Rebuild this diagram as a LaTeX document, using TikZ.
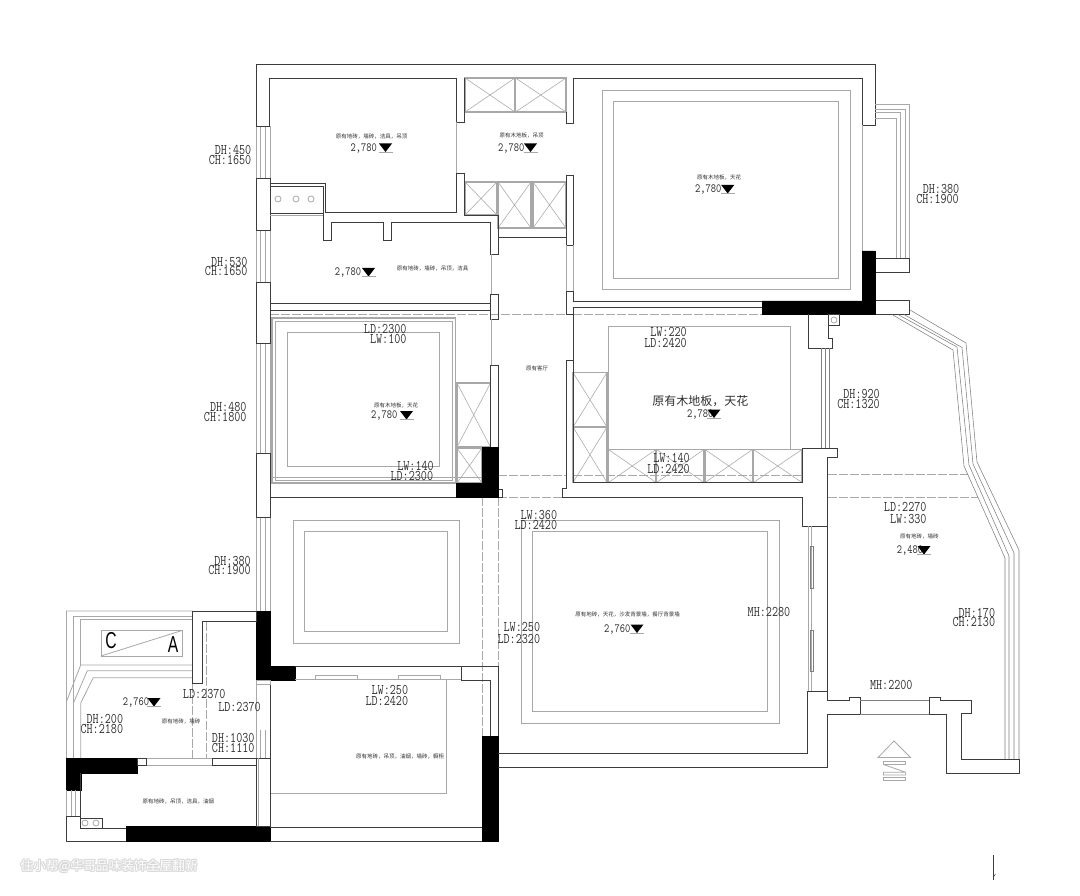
\documentclass[tikz,border=0pt]{standalone}
\usepackage{fontspec}
\newfontfamily\cjk{Noto Sans CJK SC}
\newfontfamily\lsb{Liberation Sans}
\definecolor{wallc}{HTML}{3C3C3C}
\definecolor{grayc}{HTML}{A8A8A8}
\definecolor{textc}{HTML}{303030}
\tikzset{
  wl/.style={draw=wallc,line width=0.9pt,line join=miter},
  gl/.style={draw=grayc,line width=0.8pt},
  gk/.style={draw=grayc,line width=1.3pt},
  xl/.style={draw=grayc,line width=0.55pt},
  dl/.style={draw=grayc,line width=0.8pt,dash pattern=on 9pt off 2pt on 9pt off 2pt},
  blk/.style={fill=black,draw=black,line width=0.3pt},
  dimt/.style={anchor=east,inner sep=0pt,text=textc,font=\fontsize{11.8}{12}\selectfont\ttfamily},
  dimc/.style={anchor=center,inner sep=0pt,text=textc,font=\fontsize{11.8}{12}\selectfont\ttfamily},
  lvlt/.style={anchor=west,inner sep=0pt,text=textc,font=\fontsize{10}{10}\selectfont\ttfamily},
  tiny/.style={anchor=center,inner sep=0pt,text=textc,font=\fontsize{5.5}{6}\selectfont\cjk},
  big/.style={anchor=center,inner sep=0pt,text=textc,font=\fontsize{12}{13}\selectfont\cjk}
}
\newcommand{\dimr}[3]{\node[dimt] at (#1,#2) {\scalebox{1}[1.25]{#3}};}
\newcommand{\dimm}[3]{\node[dimc] at (#1,#2) {\scalebox{1}[1.25]{#3}};}
% level mark: text left x, triangle centre x, triangle top y, text
\newcommand{\lvl}[4]{%
  \node[lvlt] at (#1,#3+4.5) {\scalebox{1}[1.25]{#4}};
  \fill[black] (#2-6.5,#3) -- (#2+6.5,#3) -- (#2,#3+8.5) -- cycle;
  \draw[gl,line width=0.6pt] (#2-7,#3+8.5) -- (#2+7,#3+8.5);}
\newcommand{\closet}[4]{%
  \draw[gk] (#1,#2) rectangle (#3,#4);
  \draw[xl] (#1,#2) -- (#3,#4) (#1,#4) -- (#3,#2);}
\newcommand{\winv}[4]{% vertical window: x1 x2 y1 y2
  \draw[gl] (#1,#3) -- (#1,#4) (#1+4.5,#3) -- (#1+4.5,#4) (#2-4.5,#3) -- (#2-4.5,#4) (#2,#3) -- (#2,#4);}
\begin{document}
\begin{tikzpicture}[x=1pt,y=-1pt]
\useasboundingbox (0,0) rectangle (1080,896);
\fill[white] (0,0) rectangle (1080,896);

% ---- ceilings
\draw[gl] (602,90) rectangle (850,289);
\draw[gl] (613.5,101) rectangle (838.5,278);
\draw[gl] (287.5,332.5) rectangle (439.5,466.5);
\draw[gl] (293,520.5) rectangle (459,643);
\draw[gl] (304.5,531.5) rectangle (447.5,631.5);
\draw[gl] (521,520.5) rectangle (779.5,723);
\draw[gl] (532.5,531.5) rectangle (767.5,711);
\draw[gl] (608,449) -- (608,326.5) -- (790.5,326.5) -- (790.5,449);
\draw[gl] (446,680) -- (446,793) -- (270,793);
\draw[gk] (272,318) rectangle (455.5,483);
\draw[gl] (275,321) rectangle (452.5,480);

% ---- dashed lines
\draw[dl] (270,314.5) -- (573,314.5);
\draw[dl] (573,314.5) -- (762,314.5);
\draw[dl] (498,475) -- (566,475);
\draw[dl] (573,475) -- (802,475);
\draw[dl] (827.5,474) -- (968,474);
\draw[dl] (498,497) -- (562,497);
\draw[dl] (827.5,497) -- (978,497);
\draw[draw=grayc,line width=0.6pt] (270,477) -- (482,477);
\draw[dl] (482,497) -- (482,736);
\draw[dl] (498,497) -- (498,666);
\draw[dl] (192.7,683.5) -- (192.7,758);
\draw[dl] (206.5,621.5) -- (206.5,758);

% ---- left windows
\winv{256}{270}{126}{178}
\winv{256}{270}{230}{282}
\winv{256}{270}{343}{453}
\winv{256}{270}{517}{611}
\winv{256}{270}{730}{758}
\draw[gl] (256,684) -- (256,730) (270,684) -- (270,730);

% ---- closets
\closet{465}{78}{515}{112}
\closet{515.5}{78}{566}{112}
\closet{465}{182}{497}{215}
\closet{498}{182}{531}{228}
\closet{533}{182}{566}{228}
\closet{457}{383}{490.5}{447}
\closet{457}{448}{482}{483}
\closet{573}{372.5}{607}{427}
\closet{573}{427}{607}{482.5}
\closet{608.5}{449.5}{656}{482.5}
\closet{656.5}{449.5}{704}{482.5}
\closet{705}{449.5}{752.5}{482.5}
\closet{753.5}{449.5}{802}{482.5}

% ---- main walls, upper part
\draw[wl] (456.5,122) -- (456.5,78) -- (269.5,78) -- (269.5,126) -- (256,126) -- (256,64) -- (875,64) -- (875,125) -- (862,125) -- (862,78) -- (573,78) -- (573,123.5) -- (566,123.5) -- (566,112);
\draw[wl] (464,78) -- (464,122) -- (456.5,122);
\draw[wl] (256,178) rectangle (270,230);
\draw[wl] (256,282) rectangle (270,343);
\draw[wl] (256,453) rectangle (270,517);
\draw[wl] (464,173) -- (456.5,173) -- (456.5,212) -- (325.5,212);
\draw[wl] (464,173) -- (464,215) -- (498,215) -- (498,254) -- (490.5,254) -- (490.5,222) -- (391,222) -- (391,240) -- (383,240) -- (383,222) -- (331,222) -- (331,240) -- (323,240) -- (323,213);
\draw[wl] (566,175.5) rectangle (573,245);
\draw[draw=wallc,line width=0.8pt] (498,237) -- (566,237);
\draw[draw=wallc,line width=0.7pt] (269.5,183) -- (325.5,183) -- (325.5,213) (269.5,186) -- (323,186) -- (323,213) (269.5,213) -- (323,213);
\draw[gl] (269.5,215.5) -- (323,215.5);
\draw[gl] (278,199) circle (3) (296,199) circle (3) (311,199) circle (3);
\draw[wl] (270,303.5) -- (490.5,303.5);
\draw[wl] (270,310.5) -- (490.5,310.5);
\draw[wl] (490.5,294) rectangle (498,319);
\draw[wl] (490.5,365) rectangle (498,447);
\draw[gl] (456.5,122) -- (456.5,173);
\draw[gl] (491,254) -- (491,294) (491,319) -- (491,365);
\draw[gl] (566,245) -- (566,291) (573,245) -- (573,291);
\draw[wl] (270,497) -- (456,497);
\draw[wl] (498,489) rectangle (502,497);
\draw[gl] (862,125) -- (862,251);

% master lower wall
\draw[wl] (573,301) -- (762,301);
\draw[wl] (573,301) -- (573,291) -- (566,291) -- (566,314.5) -- (573,314.5);
\draw[wl] (573,307.5) -- (762,307.5);
\draw[wl] (573,307.5) -- (573,360.5);
\draw[wl] (573,360.5) -- (566,360.5) -- (566,488) -- (562.5,488) -- (562.5,497) -- (802.5,497) -- (802.5,526) -- (827.5,526) -- (827.5,457) -- (837,457) -- (837,448) -- (802.5,448) -- (802.5,482.5) -- (573,482.5) -- (573,360.5);

% balcony NE
\draw[gl] (875,104) -- (909.5,104) -- (909.5,258);
\draw[gl] (875,109) -- (905,109) -- (905,258);
\draw[gl] (875,112) -- (900.5,112) -- (900.5,258);
\draw[gl] (875,118) -- (896,118) -- (896,258);
\draw[wl] (875,258) rectangle (909.5,272);
\draw[wl] (875,300.5) rectangle (909.5,314.5);

% balcony E
\draw[xl,draw=gray] (910,310) -- (966,343) -- (977,462) -- (1019,550) -- (1019,759);
\draw[xl,draw=gray] (904,314.5) -- (962,347.5) -- (973,464) -- (1014,553) -- (1014,759);
\draw[xl,draw=gray] (898,314.5) -- (957,347) -- (969,465) -- (1009,556) -- (1009,759);
\draw[xl,draw=gray] (892,314.5) -- (953,350) -- (964,466) -- (1005,558) -- (1005,759);

% black pillars
\fill[blk] (862,251) -- (875,251) -- (875,314.5) -- (762,314.5) -- (762,301) -- (862,301) -- cycle;
\fill[blk] (482,447) -- (498,447) -- (498,497) -- (456,497) -- (456,483) -- (482,483) -- cycle;
\fill[blk] (256,611) -- (270,611) -- (270,666) -- (295,666) -- (295,680) -- (256,680) -- cycle;
\fill[blk] (482,736) rectangle (498,841);
\fill[blk] (126,826) rectangle (270,841);
\fill[blk] (66.5,758) -- (137,758) -- (137,773) -- (80.7,773) -- (80.7,790) -- (66.5,790) -- cycle;

% window beside centre room
\draw[wl] (808,314.5) -- (808,348) -- (832,348) -- (832,338) -- (828,338) -- (828,314.5);
\draw[wl,line width=0.7pt] (828.5,314.5) rectangle (839.5,325);
\draw[gl] (834,320) circle (3);
\draw[xl,draw=gray] (821.5,348) -- (821.5,448) (825,348) -- (825,448) (829,348) -- (829,448);

% living right side
\draw[wl] (827.5,526) -- (827.5,700) -- (849,700) -- (849,697.5) -- (860,697.5) -- (860,714) -- (827.5,714) -- (827.5,767) -- (498,767);
\draw[wl] (807,691) -- (827.5,691);
\draw[wl] (807,691) -- (807,753) -- (498,753);
\draw[gl] (808,526) -- (808,691);
\draw[xl,draw=grayc] (811,526) -- (811,691);
\draw[xl,draw=gray] (810,546.5) rectangle (813,588.5) (810,630) rectangle (813,671.5);

% entry
\draw[wl,line width=0.5pt,draw=gray] (860,700) -- (929,700) (860,714) -- (929,714);
\draw[wl] (929,714) -- (929,697.5) -- (940,697.5) -- (940,700) -- (971,700) -- (971,713) -- (961,713) -- (961,759) -- (1019,759) -- (1019,773) -- (946.5,773) -- (946.5,714) -- (929,714);
\draw[gl] (894,741) -- (878,757.5) -- (910.5,757.5) -- cycle;
\draw[gl] (883.5,764.5) -- (883.5,761.7) -- (905.7,761.7) -- (905.7,764.5) -- cycle;
\draw[gl] (883.5,764.5) -- (905.7,772.3) -- (905.7,775) -- (883.5,775) -- (883.5,772.3) -- (905.7,772.3);
\draw[gl] (883.5,777.5) rectangle (905.7,780);
\draw[draw=wallc,line width=0.5pt] (993.5,855) -- (993.5,880);
\draw[draw=wallc,line width=0.5pt] (993.5,877) -- (995.5,874);

% dining / kitchen
\draw[wl] (295,666) -- (461,666);
\draw[gl] (295,679.5) -- (461,679.5);
\draw[gl] (315,675.5) rectangle (357,679.5) (398,675.5) rectangle (440,679.5);
\draw[wl] (461,680) -- (461,666) -- (498,666) -- (498,736);
\draw[wl] (461,680) -- (490,680) -- (490,736);
\draw[wl] (270,680) -- (270,827) -- (482,827);
\draw[wl] (270,841) -- (482,841);

% SW wing
\draw[gl] (192.7,611) -- (66.5,611) -- (66.5,701.5) -- (80.7,665) -- (192.7,665);
\draw[gl] (192.7,616) -- (73.3,616) -- (73.3,758);
\draw[gl] (73.3,703.3) -- (87.3,670.7) -- (192.7,670.7);
\draw[gl] (192.7,619.5) -- (80.7,619.5) -- (80.7,665);
\draw[gl] (80.7,758) -- (80.7,703) -- (93.3,677.7) -- (192.7,677.7);
\draw[gl] (66.5,701.5) -- (66.5,758);
\draw[gl] (101,630.5) rectangle (182,656);
\draw[gl] (101,656) -- (182,630.5);
\node[inner sep=0pt,text=black] at (111,641) {\lsb\fontsize{23}{23}\selectfont\scalebox{.68}[1]{C}};
\node[inner sep=0pt,text=black] at (173,645) {\lsb\fontsize{23}{23}\selectfont\scalebox{.68}[1]{A}};
\draw[wl] (192.7,611) -- (256,611) -- (256,621.5) -- (202.7,621.5) -- (202.7,683.5) -- (192.7,683.5) -- cycle;
\draw[gl] (256,680) rectangle (270,684);
\draw[wl,line width=0.7pt] (137,758) rectangle (146.5,765);
\draw[gl] (146.5,758) -- (212,758) (146.5,765) -- (212,765);
\draw[wl] (212,765) -- (212,758) -- (256,758);
\draw[wl] (212,765) -- (256,765);
\draw[wl] (256,758) rectangle (270,826.5);
\draw[gl] (258,758) -- (258,826);
\draw[gl] (66.5,790) -- (66.5,816) (71,790) -- (71,816) (75.5,790) -- (75.5,816);
\draw[wl] (80.7,773) -- (80.7,816) -- (66.5,816) -- (66.5,841) -- (126,841);
\draw[wl] (80.7,816) -- (80.7,828) -- (126,828);
\draw[draw=wallc,line width=0.6pt] (80.7,818.5) rectangle (102.5,828);
\draw[gl] (85,823) circle (3) (96,823) circle (3);

% ---- dimension texts
\dimr{251.5}{150}{DH:450}
\dimr{251.5}{159.5}{CH:1650}
\dimr{247.7}{261.7}{DH:530}
\dimr{247.7}{271}{CH:1650}
\dimr{246.7}{407.3}{DH:480}
\dimr{246.7}{416.7}{CH:1800}
\dimr{251}{561}{DH:380}
\dimr{251}{569.5}{CH:1900}
\dimr{959.5}{189}{DH:380}
\dimr{959}{199}{CH:1900}
\dimr{880}{394.3}{DH:920}
\dimr{880}{403.7}{CH:1320}
\dimr{995.3}{613}{DH:170}
\dimr{995.3}{622.3}{CH:2130}
\dimr{123.3}{719.3}{DH:200}
\dimr{123.3}{728.7}{CH:2180}
\dimr{254.7}{738.3}{DH:1030}
\dimr{254.7}{747.7}{CH:1110}
\dimm{891.3}{684.7}{MH:2200}
\dimm{769}{612.3}{MH:2280}
\dimr{406.7}{329.3}{LD:2300}
\dimr{406.7}{339.3}{LW:100}
\dimr{434}{465.7}{LW:140}
\dimr{433.3}{476.3}{LD:2300}
\dimr{687}{331.7}{LW:220}
\dimr{687}{343}{LD:2420}
\dimr{690}{457.7}{LW:140}
\dimr{690}{468.7}{LD:2420}
\dimr{926.7}{507.3}{LD:2270}
\dimr{926.7}{518.7}{LW:330}
\dimr{557.3}{514.7}{LW:360}
\dimr{557.3}{525.3}{LD:2420}
\dimr{540.3}{627.3}{LW:250}
\dimr{540.3}{638.7}{LD:2320}
\dimr{408.3}{690}{LW:250}
\dimr{408.3}{701}{LD:2420}
\dimr{225.7}{694.3}{LD:2370}
\dimr{261}{707.3}{LD:2370}

% ---- levels
\lvl{350.5}{385.5}{143.5}{2,780}
\lvl{498}{530.5}{143.5}{2,780}
\lvl{695}{727.7}{185}{2,780}
\lvl{334.7}{368.5}{268}{2,780}
\lvl{371}{406.5}{411}{2,780}
\lvl{687}{714}{409.5}{2,780}
\lvl{896.7}{924}{546}{2,480}
\lvl{604}{637}{624.5}{2,760}
\lvl{122.7}{154}{698}{2,760}

% ---- material labels
\node[tiny] at (371.7,136) {原有地砖，墙砖，洁具，吊顶};
\node[tiny] at (521.7,135) {原有木地板，吊顶};
\node[tiny] at (719,177.7) {原有木地板，天花};
\node[tiny] at (432.7,268.7) {原有地砖，墙砖，吊顶，洁具};
\node[tiny] at (396,405.3) {原有木地板，天花};
\node[tiny] at (537,368.3) {原有客厅};
\node[tiny] at (919.3,536) {原有地砖，墙砖};
\node[tiny] at (627.7,614.3) {原有地砖，天花，沙发背景墙，餐厅背景墙};
\node[tiny] at (181,721.3) {原有地砖，墙砖};
\node[tiny] at (178.3,801.7) {原有地砖，吊顶，洁具，油烟};
\node[tiny] at (400,756.7) {原有地砖，吊顶，油烟，墙砖，橱柜};
\node[big] at (700.3,400.7) {原有木地板，天花};

% ---- watermark
\foreach \dx/\dy in {-1/0,1/0,0/-1,0/1,0.8/0.8,-0.8/-0.8,0.8/-0.8,-0.8/0.8}{
  \node[inner sep=0pt,text=gray!30,font=\fontsize{12.7}{13}\selectfont\cjk] at (109+\dx,866+\dy) {住小帮@华哥品味装饰全屋翻新};
}
\node[inner sep=0pt,text=white,font=\fontsize{12.7}{13}\selectfont\cjk] at (109,866) {住小帮@华哥品味装饰全屋翻新};
\end{tikzpicture}
\end{document}
